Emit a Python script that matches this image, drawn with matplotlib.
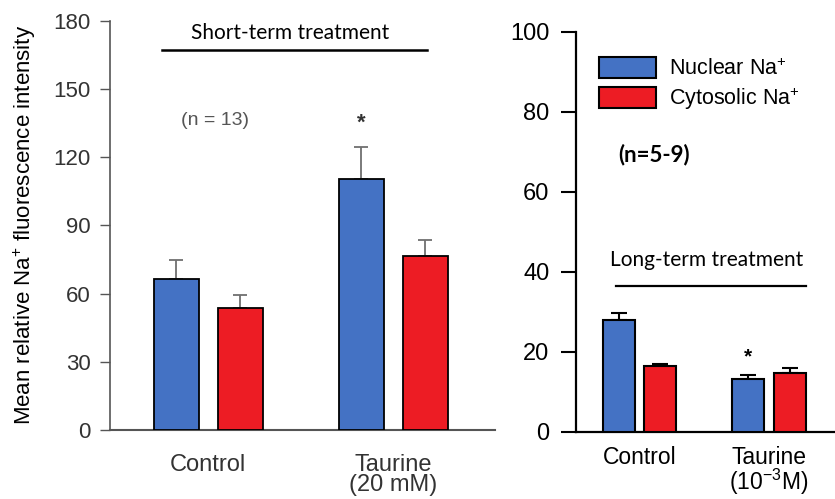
import matplotlib
matplotlib.use("Agg")
import matplotlib.pyplot as plt
from matplotlib.patches import Patch
import numpy as np

plt.rcParams['font.family'] = ['Liberation Sans', 'DejaVu Sans']
plt.rcParams['mathtext.fontset'] = 'custom'
plt.rcParams['mathtext.rm'] = 'Liberation Sans'
plt.rcParams['mathtext.it'] = 'Liberation Sans:italic'
plt.rcParams['mathtext.bf'] = 'Liberation Sans:bold'

# ---- data ----
short_groups = ['Control', 'Taurine\n(20 mM)']
short_nuclear = [66.5, 110.5]
short_nuclear_err = [8.3, 14.0]
short_cytosolic = [53.7, 76.6]
short_cytosolic_err = [5.7, 7.0]

long_groups = ['Control', 'Taurine\n(10$^{-3}$M)']
long_nuclear = [28.0, 13.3]
long_nuclear_err = [1.8, 1.0]
long_cytosolic = [16.5, 14.8]
long_cytosolic_err = [0.5, 1.3]

left_ticks = [0, 30, 60, 90, 120, 150, 180]
right_ticks = [0, 20, 40, 60, 80, 100]

BLUE = '#4472C4'
RED = '#ED1C24'
W, H = 835, 499

fig = plt.figure(figsize=(W / 100, H / 100), dpi=100)

def px_axes(x0, x1, ytop, ybot):
    return fig.add_axes([x0 / W, 1 - ybot / H, (x1 - x0) / W, (ybot - ytop) / H])

# ---------------- left panel ----------------
axL = px_axes(110, 495, 21, 430)
x = np.arange(len(short_groups))
bw, off = 0.243, 0.173
gray = '#555555'
axL.bar(x - off, short_nuclear, bw, color=BLUE, edgecolor='black', linewidth=1.3, zorder=3)
axL.bar(x + off, short_cytosolic, bw, color=RED, edgecolor='black', linewidth=1.3, zorder=3)
axL.errorbar(x - off, short_nuclear, yerr=[np.zeros(2), short_nuclear_err], fmt='none',
             ecolor='#707070', elinewidth=1.3, capsize=5, capthick=1.3, zorder=2)
axL.errorbar(x + off, short_cytosolic, yerr=[np.zeros(2), short_cytosolic_err], fmt='none',
             ecolor='#707070', elinewidth=1.3, capsize=5, capthick=1.3, zorder=2)
axL.set_xlim(-0.531, 1.55)
axL.set_ylim(0, 180)
axL.set_yticks(left_ticks)
axL.tick_params(axis='y', length=7, width=1, color=gray, labelsize=16, labelcolor='#333333', pad=7)
axL.set_xticks(x, short_groups)
axL.tick_params(axis='x', length=0, labelsize=17, labelcolor='#333333', pad=17)
for t in axL.get_xticklabels():
    t.set_linespacing(0.92)
for s in ['top', 'right']:
    axL.spines[s].set_visible(False)
axL.spines['left'].set_color(gray)
axL.spines['left'].set_linewidth(1.2)
axL.spines['bottom'].set_color(gray)
axL.spines['bottom'].set_linewidth(1.5)
axL.patch.set_alpha(0)

axL.text(0.442, 174.7, 'Short-term treatment', ha='center', va='center',
         fontsize=15, family='Lato', color='black')
axL.plot([-0.25, 1.183], [167.2, 167.2], color='black', lw=1.8, clip_on=False)
axL.text(0.036, 136, '(n = 13)', ha='center', va='center', fontsize=14, color='#555555')
axL.text(1 - off, 135, '*', ha='center', va='center', fontsize=16, color='#333333', fontweight='bold')

fig.text(25 / W, 1 - 225 / H, 'Mean relative Na$^{+}$ fluorescence intensity', rotation=90,
         ha='center', va='center', fontsize=16, color='black')

# ---------------- right panel ----------------
axR = px_axes(576, 835, 32, 432)
xr = np.arange(len(long_groups))
bw2, off2 = 0.248, 0.16
axR.bar(xr - off2, long_nuclear, bw2, color=BLUE, edgecolor='black', linewidth=1.5, zorder=3)
axR.bar(xr + off2, long_cytosolic, bw2, color=RED, edgecolor='black', linewidth=1.5, zorder=3)
axR.errorbar(xr - off2, long_nuclear, yerr=[np.zeros(2), long_nuclear_err], fmt='none',
             ecolor='black', elinewidth=1.5, capsize=6, capthick=1.5, zorder=2)
axR.errorbar(xr + off2, long_cytosolic, yerr=[np.zeros(2), long_cytosolic_err], fmt='none',
             ecolor='black', elinewidth=1.5, capsize=6, capthick=1.5, zorder=2)
axR.set_xlim(-0.493, 1.51)
axR.set_ylim(0, 100)
axR.set_yticks(right_ticks)
axR.tick_params(axis='y', length=11, width=1.5, color='black', labelsize=17, labelcolor='black', pad=8)
axR.set_xticks(xr, long_groups)
axR.tick_params(axis='x', length=0, labelsize=16.5, labelcolor='black', pad=10)
for t in axR.get_xticklabels():
    t.set_linespacing(0.92)
for s in ['top', 'right']:
    axR.spines[s].set_visible(False)
axR.spines['left'].set_linewidth(1.6)
axR.spines['bottom'].set_linewidth(1.6)
axR.patch.set_alpha(0)

axR.text(0.52, 43, 'Long-term treatment', ha='center', va='center',
         fontsize=15, family='Lato', color='black')
axR.plot([-0.183, 1.287], [36.5, 36.5], color='black', lw=1.6, clip_on=False)
axR.text(-0.168, 69.25, '(n=5-9)', ha='left', va='center', fontsize=16, family='Lato',
         fontweight='bold', color='black')
axR.text(1 - off2, 18.8, '*', ha='center', va='center', fontsize=15, color='black', fontweight='bold')

handles = [Patch(facecolor=BLUE, edgecolor='black', linewidth=1.5),
           Patch(facecolor=RED, edgecolor='black', linewidth=1.5)]
leg = axR.legend(handles, ['Nuclear Na$^{+}$', 'Cytosolic Na$^{+}$'], frameon=False,
                 loc='upper left', bbox_to_anchor=(599 / W, 1 - 57 / H),
                 bbox_transform=fig.transFigure, borderaxespad=0, borderpad=0,
                 handlelength=2.64, handleheight=1.15, handletextpad=0.6,
                 labelspacing=0.25, fontsize=15.5)

fig.savefig('out.png', dpi=100)
